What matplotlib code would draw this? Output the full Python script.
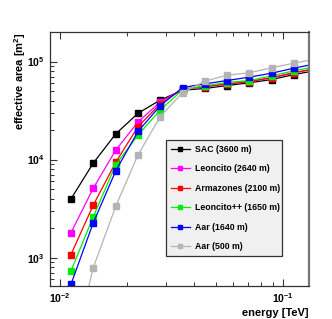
import matplotlib
matplotlib.use("Agg")
import matplotlib.pyplot as plt
from matplotlib.ticker import LogLocator, NullFormatter, FuncFormatter
import numpy as np

plt.rcParams['font.family'] = ['Liberation Sans', 'DejaVu Sans']
plt.rcParams['mathtext.fontset'] = 'custom'
plt.rcParams['mathtext.rm'] = 'Liberation Sans'
plt.rcParams['mathtext.bf'] = 'Liberation Sans:bold'

# energy bin centres [TeV]
energy = [0.0112, 0.0141, 0.0178, 0.0224, 0.0282, 0.0355,
          0.0447, 0.0562, 0.0708, 0.0891, 0.112, 0.141]

# effective areas [m^2] per site
sac = [3970, 9200, 18300, 29700, 40500, 51000, 53100, 56900, 60700, 65500, 73600, 81000]
leoncito = [1790, 5100, 12500, 24200, 38800, 52000, 55000, 59000, 62500, 68000, 76500, 84500]
armazones = [1075, 3430, 9400, 21700, 37000, 52500, 55500, 59000, 62500, 68500, 77000, 85000]
leoncito_pp = [731, 2600, 8900, 17800, 32100, 51500, 56500, 61000, 64000, 71400, 80400, 89000]
aar_1640 = [535, 2260, 7700, 19400, 35500, 54300, 59200, 64000, 69300, 76100, 85500, 95000]
aar_500 = [90, 790, 3350, 11200, 27500, 48300, 63000, 72600, 76800, 86300, 96300, 106000]

labels = ['SAC (3600 m)', 'Leoncito (2640 m)', 'Armazones (2100 m)',
          'Leoncito++ (1650 m)', 'Aar (1640 m)', 'Aar (500 m)']
colors = ['black', '#ff00ff', '#ff0000', '#00ee00', '#0000ff', '#b4b4b4']
series = [sac, leoncito, armazones, leoncito_pp, aar_1640, aar_500]

fig = plt.figure(figsize=(3.32, 3.19), dpi=100)
ax = fig.add_axes([50/332, 1-286/319, 259/332, 254/319])

handles = []
for vals, lab, col in zip(series, labels, colors):
    h, = ax.plot(energy, vals, color=col, lw=0.9, marker='s', ms=4.5,
                 mec=col, mfc=col, label=lab)
    handles.append(h)

ax.set_xscale('log')
ax.set_yscale('log')
ax.set_xlim(0.00902, 0.131)
ax.set_ylim(514, 2.0e5)

fmt = FuncFormatter(lambda v, p: r'$\mathbf{10^{%d}}$' % int(round(np.log10(v))))
ax.xaxis.set_major_formatter(fmt)
ax.yaxis.set_major_formatter(fmt)
ax.xaxis.set_minor_formatter(NullFormatter())
ax.yaxis.set_minor_formatter(NullFormatter())
ax.yaxis.set_minor_locator(LogLocator(base=10, subs=np.arange(2, 10)))
ax.xaxis.set_minor_locator(LogLocator(base=10, subs=np.arange(2, 10)))

ax.tick_params(which='both', direction='in', top=True, right=False,
               labelsize=7.5, color='#333333', pad=4)
ax.tick_params(which='major', length=5, width=0.8)
ax.tick_params(which='minor', length=3, width=0.7)

for side in ['left', 'bottom', 'top']:
    ax.spines[side].set_color('#333333')
    ax.spines[side].set_linewidth(0.9)
ax.spines['right'].set_color('#777777')
ax.spines['right'].set_linewidth(1.6)

ax.set_xlabel('energy [TeV]', fontsize=8, fontweight='bold', loc='right')
ax.set_ylabel(r'effective area [m$^{\mathbf{2}}$]', fontsize=8, fontweight='bold', loc='top')
ax.xaxis.set_label_coords(1.0, -0.087)
ax.yaxis.set_label_coords(-0.085, 1.0)

leg = ax.legend(handles=handles, loc='upper left',
                bbox_to_anchor=(166/332, 1-140/319, 116/332, 0.0),
                bbox_transform=fig.transFigure, mode='expand',
                borderaxespad=0, prop={'weight': 'bold', 'size': 6.3},
                handlelength=2.2, handletextpad=0.55, labelspacing=1.2,
                borderpad=0.55, markerscale=0.55, fancybox=False,
                frameon=True, framealpha=1.0)
leg.get_frame().set_facecolor('#f0f0f0')
leg.get_frame().set_edgecolor('#333333')
leg.get_frame().set_linewidth(0.9)

fig.savefig('out.png', dpi=100)
